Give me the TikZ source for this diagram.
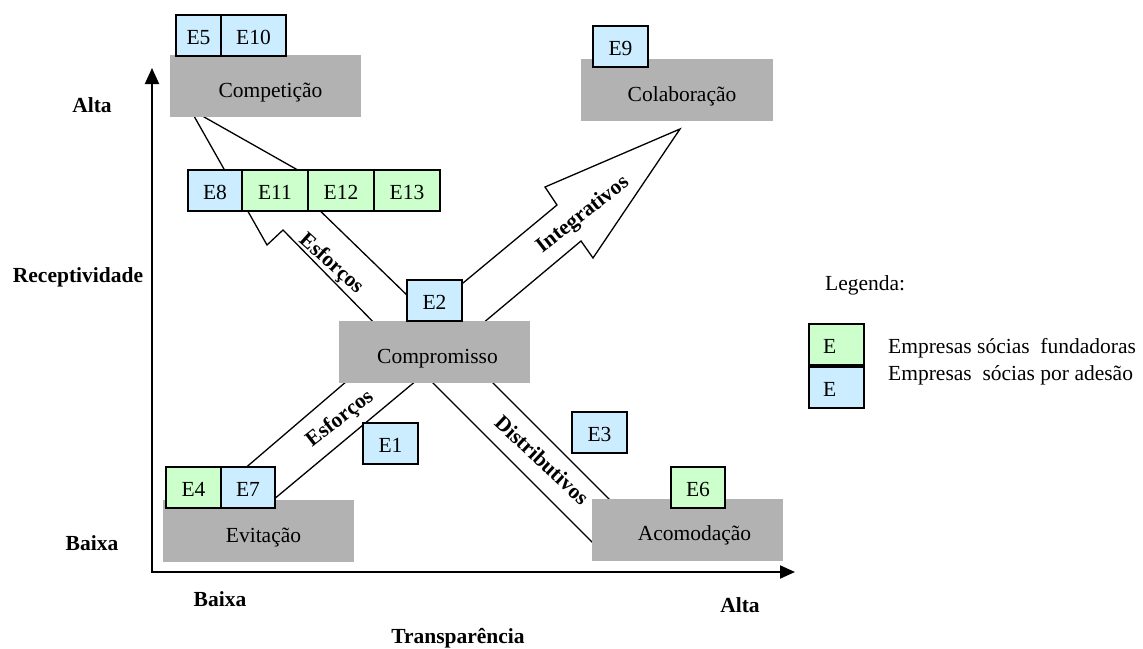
\documentclass[tikz,border=0pt]{standalone}
\usepackage{fontspec}
\setmainfont{Liberation Serif}
\usetikzlibrary{arrows.meta}
\definecolor{grayfill}{HTML}{B2B2B2}
\definecolor{bluefill}{HTML}{CCECFF}
\definecolor{greenfill}{HTML}{CCFFCC}
\begin{document}
\begin{tikzpicture}[x=1pt,y=-1pt,
  font=\fontsize{21.5}{25}\selectfont,
  graybox/.style={fill=grayfill, inner sep=0pt, minimum width=191pt, minimum height=62pt, text height=22pt, text depth=0pt},
  ebox/.style={draw, line width=1.3pt, inner sep=0pt, minimum height=41pt, text height=18pt, text depth=0pt},
  bluebox/.style={ebox, fill=bluefill},
  greenbox/.style={ebox, fill=greenfill},
  bigarrow/.style={draw, fill=white, line width=1.3pt, line join=miter},
  axisline/.style={line width=2pt, {Triangle[length=16pt,width=14pt]}-{Triangle[length=15pt,width=13pt]}},
  boldlabel/.style={font=\fontsize{21.5}{25}\selectfont\bfseries, inner sep=0pt},
  plainlabel/.style={inner sep=0pt, anchor=west}]
\useasboundingbox (0,0) rectangle (1143,648);

% axes
\coordinate (origin) at (152,572);
\coordinate (ytip) at (152,68);
\coordinate (xtip) at (795,572);
\draw[axisline] (ytip) -- (origin) -- (xtip);

% block arrows (drawn behind boxes)
% Esforcos towards Competicao
\draw[bigarrow] (385,334) -- (283,230) -- (267,245) -- (190,109) -- (326,186) -- (311,202) -- (443,330) -- cycle;
% Integrativos towards Colaboracao
\draw[bigarrow] (410,327) -- (557,205) -- (545,187) -- (680,129) -- (593,258) -- (581,241) -- (470,334) -- cycle;
% Esforcos towards Evitacao
\draw[bigarrow] (354,375) -- (215,494) -- (249,520) -- (423,375) -- cycle;
% Distributivos towards Acomodacao
\draw[bigarrow] (425,375) -- (605,555) -- (625,515) -- (485,375) -- cycle;

% gray boxes
\node[graybox] (competicao) at (265.5,86) {\hspace*{10pt}Competição};
\node[graybox, minimum width=192pt] (colaboracao) at (677,90) {\hspace*{10pt}Colaboração};
\node[graybox] (compromisso) at (434.5,352) {\hspace*{6pt}Compromisso};
\node[graybox] (evitacao) at (258.5,531) {\hspace*{10pt}Evitação};
\node[graybox] (acomodacao) at (687.5,529.5) {\hspace*{14pt}Acomodação};

% company boxes
\node[bluebox, minimum width=45pt] (e5) at (198.5,35.5) {E5};
\node[bluebox, minimum width=65pt] (e10) at (253.5,35.5) {E10};
\node[bluebox, minimum width=54pt] (e8) at (215,190.5) {E8};
\node[greenbox, minimum width=66pt] (e11) at (275,190.5) {E11};
\node[greenbox, minimum width=66pt] (e12) at (341,190.5) {E12};
\node[greenbox, minimum width=66pt] (e13) at (407,190.5) {E13};
\node[bluebox, minimum width=55pt] (e9) at (620.5,46.5) {E9};
\node[bluebox, minimum width=55pt] (e2) at (434.5,300.5) {E2};
\node[bluebox, minimum width=55pt] (e1) at (390.5,443.5) {E1};
\node[bluebox, minimum width=55pt] (e3) at (599.5,432.5) {E3};
\node[greenbox, minimum width=55pt] (e4) at (193.5,487.5) {E4};
\node[bluebox, minimum width=54pt] (e7) at (248,487.5) {E7};
\node[greenbox, minimum width=54pt] (e6) at (698,487.5) {E6};

% arrow labels
\node[boldlabel, rotate=38] (integ) at (583,215) {Integrativos};
\node[boldlabel, rotate=-42] (esf1) at (331,264) {Esforços};
\node[boldlabel, rotate=38] (esf2) at (340,419) {Esforços};
\node[boldlabel, rotate=-43] (distr) at (542,460) {Distributivos};

% axis labels
\node[boldlabel] (ralta) at (92,105) {Alta};
\node[boldlabel] (recep) at (78,277) {Receptividade};
\node[boldlabel] (rbaixa) at (92,543) {Baixa};
\node[boldlabel] (tbaixa) at (220,599) {Baixa};
\node[boldlabel] (talta) at (740,605) {Alta};
\node[boldlabel] (transp) at (458,638) {Transparência};

% legend
\node[plainlabel] (legenda) at (825,285) {Legenda:};
\node[greenbox, minimum width=55pt, text width=27pt, inner xsep=14pt, align=left] (lgreen) at (836.5,344.5) {E};
\node[bluebox, minimum width=55pt, text width=27pt, inner xsep=14pt, align=left] (lblue) at (836.5,387.5) {E};
\node[plainlabel] (lgtext) at (888,348) {Empresas sócias\ \ fundadoras};
\node[plainlabel] (lbtext) at (888,375) {Empresas\ \ sócias por adesão};
\end{tikzpicture}
\end{document}
